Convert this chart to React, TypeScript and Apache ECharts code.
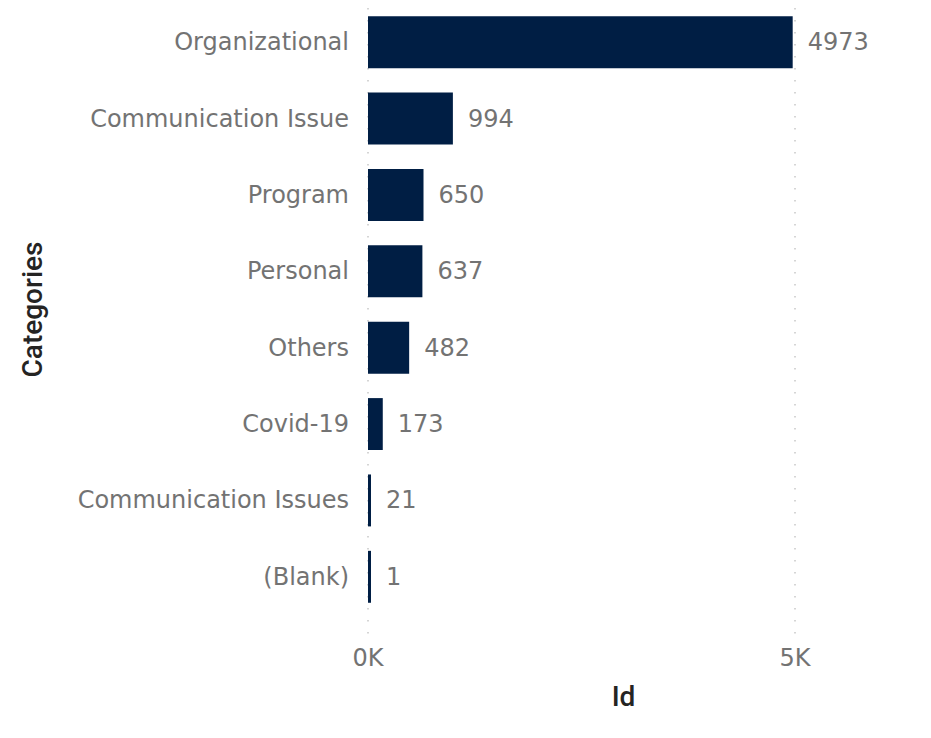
import React, { useEffect, useRef } from "react";
import * as echarts from "echarts";

const categories = [
  "Organizational",
  "Communication Issue",
  "Program",
  "Personal",
  "Others",
  "Covid-19",
  "Communication Issues",
  "(Blank)",
];
const values = [4973, 994, 650, 637, 482, 173, 21, 1];
const xTicks = [0, 5000];

export default function App() {
  const ref = useRef<HTMLDivElement>(null);
  useEffect(() => {
    document.body.style.margin = "0";
    if (!ref.current) return;
    const chart = echarts.init(ref.current, null, { renderer: "svg" });
    const labelFont = "'DejaVu Sans', sans-serif";
    const labelColor = "#737373";
    chart.setOption({
      animation: false,
      grid: [
        { left: 368, right: 136, top: 4, bottom: 123, containLabel: false },
        { left: 368, right: 136, top: 8, bottom: 102, containLabel: false },
      ],
      xAxis: [
        {
          type: "value",
          gridIndex: 0,
          min: xTicks[0],
          max: xTicks[1],
          interval: 5000,
          axisLine: { show: false },
          axisTick: { show: false },
          axisLabel: { show: false },
          splitLine: { show: false },
        },
        {
          type: "value",
          gridIndex: 1,
          min: xTicks[0],
          max: xTicks[1],
          interval: 5000,
          axisLine: { show: false },
          axisTick: { show: false },
          axisLabel: {
            show: true,
            margin: 10,
            fontFamily: labelFont,
            fontSize: 24,
            color: labelColor,
            formatter: (v: number) => `${v / 1000}K`,
          },
          splitLine: {
            show: true,
            lineStyle: { color: "#c8c8c8", type: [1.5, 10.5], width: 1.5 },
          },
          name: "Id",
          nameLocation: "middle",
          nameGap: 46,
          nameTextStyle: {
            fontFamily: "Roboto, sans-serif",
            fontWeight: 500,
            fontSize: 28,
            color: "#252423",
            padding: [0, 0, 0, 84],
          },
        },
      ],
      yAxis: [
        {
          type: "category",
          gridIndex: 0,
          data: categories,
          inverse: true,
          axisLine: { show: false },
          axisTick: { show: false },
          axisLabel: {
            margin: 19,
            fontFamily: labelFont,
            fontSize: 24,
            color: labelColor,
          },
          name: "Categories",
          nameLocation: "middle",
          nameGap: 322,
          nameRotate: 90,
          nameTextStyle: {
            fontFamily: "Roboto, sans-serif",
            fontWeight: 500,
            fontSize: 28,
            color: "#252423",
          },
        },
        {
          type: "category",
          gridIndex: 1,
          data: categories,
          show: false,
        },
      ],
      series: [
        {
          type: "bar",
          xAxisIndex: 0,
          yAxisIndex: 0,
          data: values,
          barWidth: "68%",
          barMinHeight: 3,
          itemStyle: { color: "#001E44" },
          label: {
            show: true,
            position: "right",
            distance: 15,
            fontFamily: labelFont,
            fontSize: 24,
            color: labelColor,
          },
        },
      ],
    });
    return () => chart.dispose();
  }, []);
  return <div ref={ref} style={{ width: 931, height: 738 }} />;
}
